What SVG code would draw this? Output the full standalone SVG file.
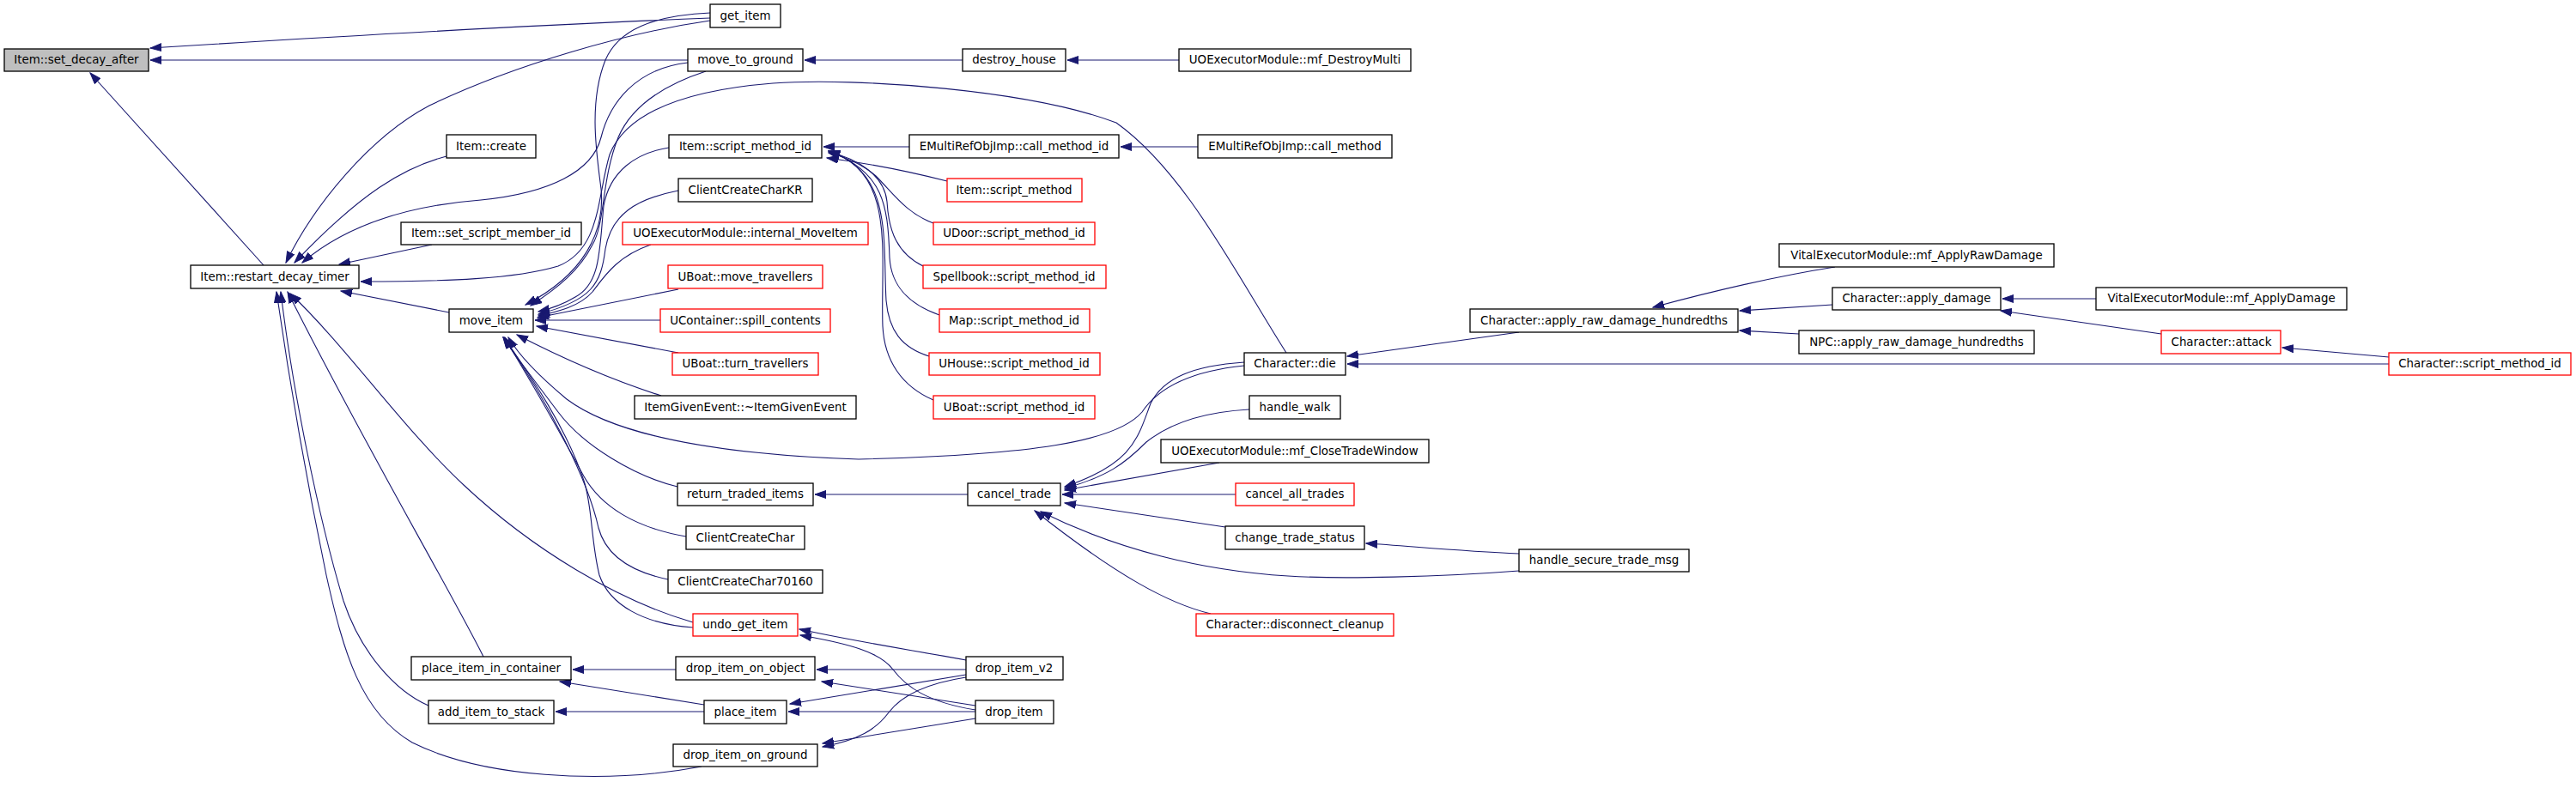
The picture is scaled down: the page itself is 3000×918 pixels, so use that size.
<svg xmlns="http://www.w3.org/2000/svg" width="3000" height="918" viewBox="0 0 3000 918">
<style>
.n rect{fill:#fff;stroke:#000;stroke-width:1.3}
.n.r rect{stroke:#f00}
.n.root rect{fill:#bfbfbf}
.n text{font-family:"DejaVu Sans","Liberation Sans",sans-serif;font-size:13.4px;text-anchor:middle;fill:#000}
#edges path{fill:none;stroke:#191970;stroke-width:1.1;marker-end:url(#a)}
</style>
<defs>
<marker id="a" markerWidth="14" markerHeight="10" refX="13" refY="5" orient="auto" markerUnits="userSpaceOnUse">
<path d="M0,0.5 L13,5 L0,9.5 z" fill="#191970" stroke="#191970" stroke-width="1"/>
</marker>
</defs>
<rect width="3000" height="918" fill="#fff"/>
<g id="edges">
<path d="M827,21 C600,30 350,45 175,56"/>
<path d="M801,70 L175,70"/>
<path d="M307,309 L105,85"/>
<path d="M827,24 C730,38 600,75 500,123 C430,160 365,240 333,306"/>
<path d="M520,182 C470,195 420,225 343,306"/>
<path d="M801,73 C740,80 710,120 700,160 C690,200 640,225 560,233 C470,240 400,265 352,306"/>
<path d="M503,285 L395,308"/>
<path d="M1498,411 C1440,320 1380,200 1300,143 C1200,105 1000,90 900,97 C800,105 730,130 710,180 C695,230 700,290 650,310 C600,325 520,328 420,328"/>
<path d="M523,364 L397,339"/>
<path d="M563,765 C520,680 420,510 335,340"/>
<path d="M499,822 C460,805 420,760 400,700 C370,600 340,450 327,340"/>
<path d="M817,893 C700,915 560,905 480,865 C420,830 400,760 380,670 C355,550 335,430 322,340"/>
<path d="M807,725 C720,700 620,640 540,565 C470,500 400,400 338,342"/>
<path d="M827,15 C760,18 720,35 705,70 C685,120 695,180 700,220 C705,270 680,320 612,355"/>
<path d="M822,83 C770,100 735,125 720,160 C700,210 705,260 690,285 C675,315 650,335 618,356"/>
<path d="M779,172 C740,178 710,200 703,240 C698,290 700,330 670,346 C655,355 640,360 627,363"/>
<path d="M790,222 C740,232 712,250 705,290 C700,330 690,350 627,366"/>
<path d="M758,285 C720,298 705,320 690,340 C675,357 650,363 627,368"/>
<path d="M790,337 L626,370"/>
<path d="M769,373 L623,373"/>
<path d="M790,411 L625,380"/>
<path d="M770,461 C720,445 660,420 602,390"/>
<path d="M1449,426 C1390,432 1350,450 1330,480 C1300,515 1200,530 1000,535 C850,530 720,510 660,465 C630,440 605,415 592,393"/>
<path d="M789,567 C740,555 680,520 650,480 C620,440 600,415 588,393"/>
<path d="M799,625 C740,615 700,590 680,555 C650,500 610,430 587,393"/>
<path d="M778,675 C730,665 705,645 697,615 C685,560 640,470 586,393"/>
<path d="M807,731 C750,727 710,705 698,670 C688,630 690,590 680,560 C660,500 620,440 586,393"/>
<path d="M1121,70 L937,70"/>
<path d="M1373,70 L1243,70"/>
<path d="M1059,171 L959,171"/>
<path d="M1395,171 L1305,171"/>
<path d="M1103,211 C1060,200 1010,190 963,184"/>
<path d="M1087,260 C1055,248 1040,225 1020,205 C1005,192 985,183 965,178"/>
<path d="M1075,310 C1045,295 1035,270 1033,235 C1030,205 1000,185 965,177"/>
<path d="M1094,367 C1060,355 1038,335 1036,300 C1034,240 1030,200 965,176"/>
<path d="M1082,415 C1050,405 1035,385 1032,350 C1028,280 1040,200 965,176"/>
<path d="M1087,466 C1050,450 1030,420 1028,380 C1025,300 1045,200 965,176"/>
<path d="M1127,576 L949,576"/>
<path d="M1449,422 C1390,426 1355,440 1340,470 C1325,510 1320,540 1240,567"/>
<path d="M1455,477 C1400,480 1360,495 1335,515 C1310,540 1290,555 1240,569"/>
<path d="M1420,539 L1240,571"/>
<path d="M1439,576 L1237,576"/>
<path d="M1427,614 L1240,586"/>
<path d="M1769,665 C1680,672 1560,675 1500,671 C1400,665 1300,640 1212,596"/>
<path d="M1410,715 C1360,703 1300,670 1205,595"/>
<path d="M1769,645 C1700,642 1640,636 1591,633"/>
<path d="M1769,387 L1569,415"/>
<path d="M2782,424 L1569,424"/>
<path d="M2137,311 C2080,320 2010,335 1925,358"/>
<path d="M2134,355 L2026,362"/>
<path d="M2095,389 L2026,385"/>
<path d="M2441,348 L2332,348"/>
<path d="M2517,389 L2330,362"/>
<path d="M2782,416 L2658,405"/>
<path d="M787,780 L667,780"/>
<path d="M820,821 L652,794"/>
<path d="M820,829 L647,829"/>
<path d="M1125,780 L951,780"/>
<path d="M1136,822 L957,794"/>
<path d="M1125,786 L920,820"/>
<path d="M1136,829 L918,829"/>
<path d="M1125,789 C1080,796 1050,810 1035,830 C1020,850 1000,862 958,870"/>
<path d="M1136,837 L958,866"/>
<path d="M1125,769 C1060,757 1000,748 931,733"/>
<path d="M1136,827 C1080,818 1055,800 1040,780 C1025,760 990,750 932,740"/>
</g>
<g id="n0" class="n root"><rect x="5" y="57" width="168" height="26"/><text x="89" y="74">Item::set_decay_after</text></g>
<g id="n1" class="n"><rect x="827" y="5" width="82" height="27"/><text x="868" y="23">get_item</text></g>
<g id="n2" class="n"><rect x="801" y="57" width="134" height="26"/><text x="868" y="74">move_to_ground</text></g>
<g id="n3" class="n"><rect x="222" y="309" width="196" height="27"/><text x="320" y="327">Item::restart_decay_timer</text></g>
<g id="n4" class="n"><rect x="1121" y="57" width="120" height="26"/><text x="1181" y="74">destroy_house</text></g>
<g id="n5" class="n"><rect x="1373" y="57" width="270" height="26"/><text x="1508" y="74">UOExecutorModule::mf_DestroyMulti</text></g>
<g id="n6" class="n"><rect x="520" y="157" width="104" height="27"/><text x="572" y="175">Item::create</text></g>
<g id="n7" class="n"><rect x="467" y="259" width="210" height="26"/><text x="572" y="276">Item::set_script_member_id</text></g>
<g id="n8" class="n"><rect x="523" y="360" width="98" height="27"/><text x="572" y="378">move_item</text></g>
<g id="n9" class="n"><rect x="779" y="157" width="178" height="27"/><text x="868" y="175">Item::script_method_id</text></g>
<g id="n10" class="n"><rect x="790" y="208" width="156" height="27"/><text x="868" y="226">ClientCreateCharKR</text></g>
<g id="n11" class="n r"><rect x="725" y="259" width="286" height="26"/><text x="868" y="276">UOExecutorModule::internal_MoveItem</text></g>
<g id="n12" class="n r"><rect x="778" y="309" width="180" height="27"/><text x="868" y="327">UBoat::move_travellers</text></g>
<g id="n13" class="n r"><rect x="769" y="360" width="198" height="27"/><text x="868" y="378">UContainer::spill_contents</text></g>
<g id="n14" class="n r"><rect x="783" y="411" width="170" height="26"/><text x="868" y="428">UBoat::turn_travellers</text></g>
<g id="n15" class="n"><rect x="739" y="461" width="258" height="27"/><text x="868" y="479">ItemGivenEvent::~ItemGivenEvent</text></g>
<g id="n16" class="n"><rect x="789" y="563" width="158" height="26"/><text x="868" y="580">return_traded_items</text></g>
<g id="n17" class="n"><rect x="799" y="613" width="138" height="27"/><text x="868" y="631">ClientCreateChar</text></g>
<g id="n18" class="n"><rect x="778" y="664" width="180" height="27"/><text x="868" y="682">ClientCreateChar70160</text></g>
<g id="n19" class="n r"><rect x="807" y="715" width="122" height="26"/><text x="868" y="732">undo_get_item</text></g>
<g id="n20" class="n"><rect x="479" y="765" width="186" height="27"/><text x="572" y="783">place_item_in_container</text></g>
<g id="n21" class="n"><rect x="787" y="765" width="162" height="27"/><text x="868" y="783">drop_item_on_object</text></g>
<g id="n22" class="n"><rect x="499" y="816" width="146" height="27"/><text x="572" y="834">add_item_to_stack</text></g>
<g id="n23" class="n"><rect x="820" y="816" width="96" height="27"/><text x="868" y="834">place_item</text></g>
<g id="n24" class="n"><rect x="784" y="867" width="168" height="26"/><text x="868" y="884">drop_item_on_ground</text></g>
<g id="n25" class="n"><rect x="1059" y="157" width="244" height="27"/><text x="1181" y="175">EMultiRefObjImp::call_method_id</text></g>
<g id="n26" class="n"><rect x="1395" y="157" width="226" height="27"/><text x="1508" y="175">EMultiRefObjImp::call_method</text></g>
<g id="n27" class="n r"><rect x="1103" y="208" width="157" height="27"/><text x="1181" y="226">Item::script_method</text></g>
<g id="n28" class="n r"><rect x="1087" y="259" width="188" height="26"/><text x="1181" y="276">UDoor::script_method_id</text></g>
<g id="n29" class="n r"><rect x="1075" y="309" width="213" height="27"/><text x="1181" y="327">Spellbook::script_method_id</text></g>
<g id="n30" class="n r"><rect x="1094" y="360" width="175" height="27"/><text x="1181" y="378">Map::script_method_id</text></g>
<g id="n31" class="n r"><rect x="1082" y="411" width="199" height="26"/><text x="1181" y="428">UHouse::script_method_id</text></g>
<g id="n32" class="n r"><rect x="1087" y="461" width="188" height="27"/><text x="1181" y="479">UBoat::script_method_id</text></g>
<g id="n33" class="n"><rect x="1449" y="411" width="118" height="26"/><text x="1508" y="428">Character::die</text></g>
<g id="n34" class="n"><rect x="1455" y="461" width="106" height="27"/><text x="1508" y="479">handle_walk</text></g>
<g id="n35" class="n"><rect x="1352" y="512" width="312" height="27"/><text x="1508" y="530">UOExecutorModule::mf_CloseTradeWindow</text></g>
<g id="n36" class="n"><rect x="1127" y="563" width="108" height="26"/><text x="1181" y="580">cancel_trade</text></g>
<g id="n37" class="n r"><rect x="1439" y="563" width="138" height="26"/><text x="1508" y="580">cancel_all_trades</text></g>
<g id="n38" class="n"><rect x="1427" y="613" width="162" height="27"/><text x="1508" y="631">change_trade_status</text></g>
<g id="n39" class="n r"><rect x="1393" y="715" width="230" height="26"/><text x="1508" y="732">Character::disconnect_cleanup</text></g>
<g id="n40" class="n"><rect x="1125" y="765" width="113" height="27"/><text x="1181" y="783">drop_item_v2</text></g>
<g id="n41" class="n"><rect x="1136" y="816" width="91" height="27"/><text x="1181" y="834">drop_item</text></g>
<g id="n42" class="n"><rect x="1769" y="640" width="198" height="26"/><text x="1868" y="657">handle_secure_trade_msg</text></g>
<g id="n43" class="n"><rect x="1712" y="360" width="312" height="27"/><text x="1868" y="378">Character::apply_raw_damage_hundredths</text></g>
<g id="n44" class="n"><rect x="2072" y="284" width="320" height="27"/><text x="2232" y="302">VitalExecutorModule::mf_ApplyRawDamage</text></g>
<g id="n45" class="n"><rect x="2134" y="335" width="196" height="26"/><text x="2232" y="352">Character::apply_damage</text></g>
<g id="n46" class="n"><rect x="2095" y="385" width="274" height="27"/><text x="2232" y="403">NPC::apply_raw_damage_hundredths</text></g>
<g id="n47" class="n"><rect x="2441" y="335" width="292" height="26"/><text x="2587" y="352">VitalExecutorModule::mf_ApplyDamage</text></g>
<g id="n48" class="n r"><rect x="2517" y="385" width="139" height="27"/><text x="2587" y="403">Character::attack</text></g>
<g id="n49" class="n r"><rect x="2782" y="411" width="212" height="26"/><text x="2888" y="428">Character::script_method_id</text></g>
</svg>
